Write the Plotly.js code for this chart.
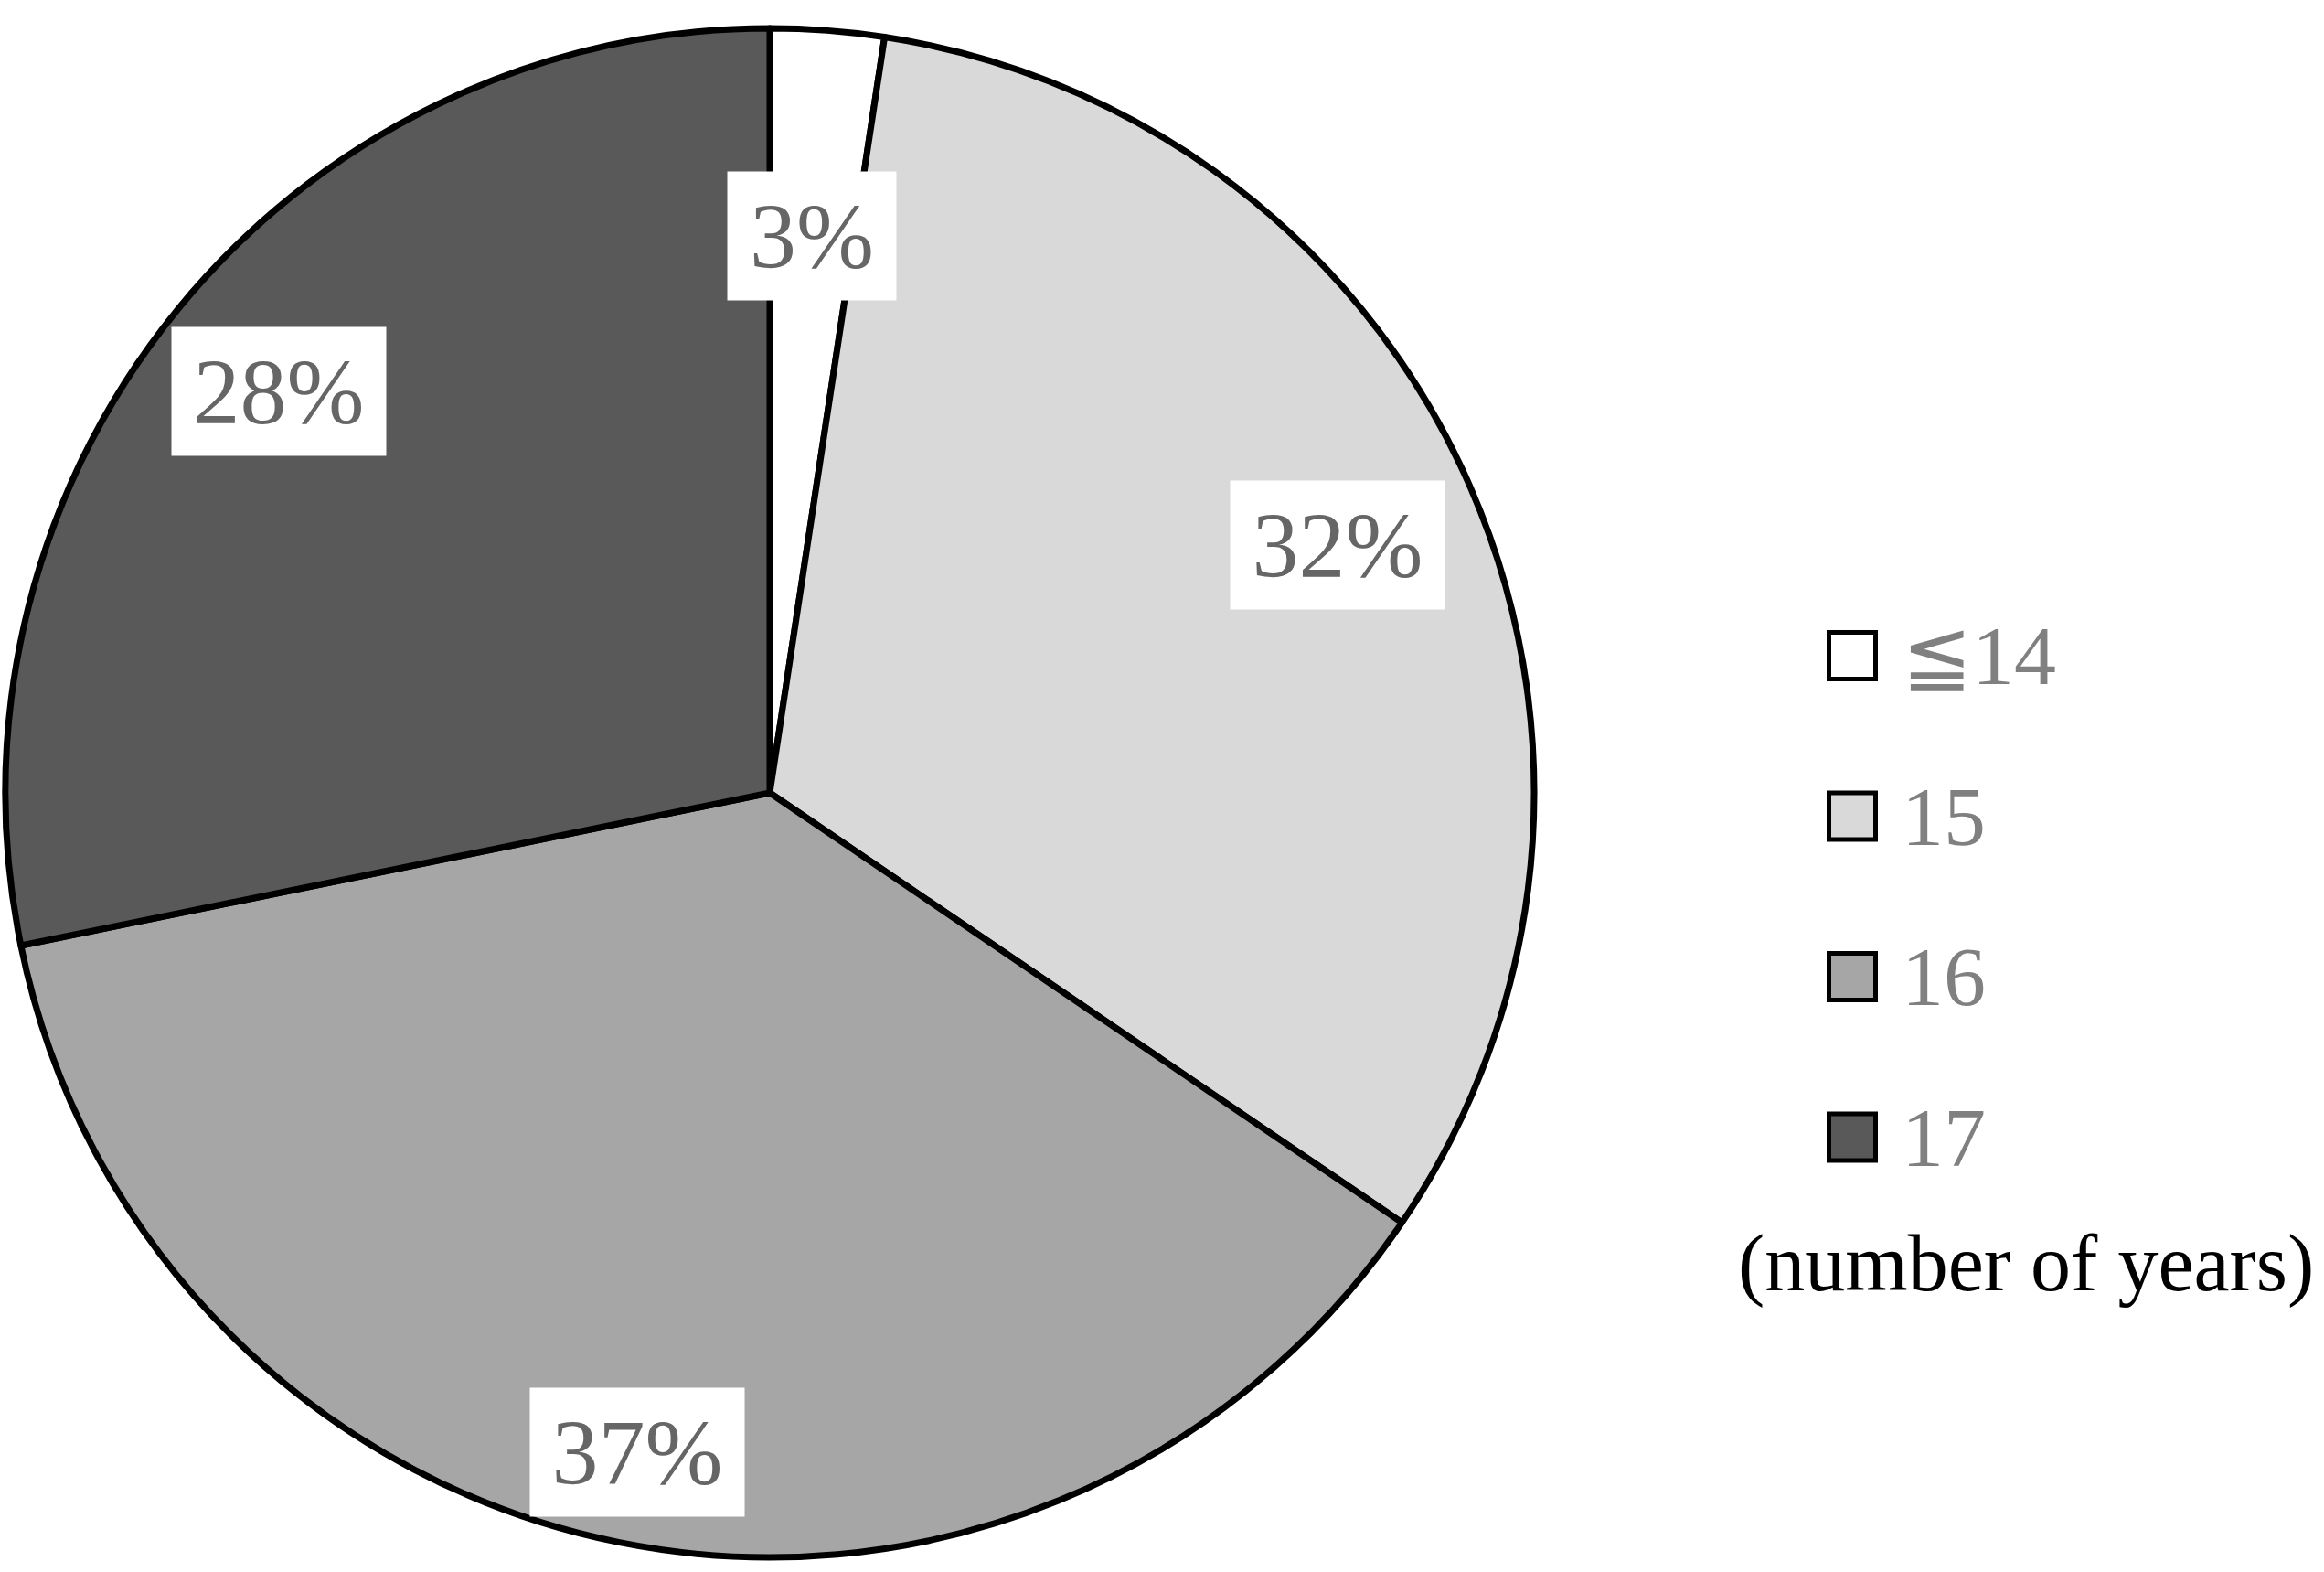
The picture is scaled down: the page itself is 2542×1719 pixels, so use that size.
<!DOCTYPE html>
<html>
<head>
<meta charset="utf-8">
<script src="https://cdn.plot.ly/plotly-3.0.1.min.js"></script>
<style>html,body{margin:0;padding:0;background:#fff}</style>
</head>
<body>
<div id="graphDiv" style="width:2542px;height:1719px"></div>
<script>
var categories = ['≦14', '15', '16', '17'];
var shares = [2.4, 32.1, 37.3, 28.2];
var pctLabels = ['3%', '32%', '37%', '28%'];
var sliceColors = ['#ffffff', '#d9d9d9', '#a6a6a6', '#595959'];
var unitNote = '(number of years)';

var W = 2542, H = 1719;
var cx = 842, cy = 867, R = 836;   // pie centre + radius, px from top-left
var serif = '"Liberation Serif", "Times New Roman", "DejaVu Sans", serif';

// label boxes: distance from centre (share of radius) and box width
var labelRadius = [0.73, 0.81, 0.88, 0.83];
var labelBoxW = [184, 234, 234, 234];

var total = shares.reduce(function (a, b) { return a + b; }, 0);
var annotations = [];
var shapes = [];

var cum = 0;
for (var i = 0; i < shares.length; i++) {
    var mid = (cum + shares[i] / 2) / total * 2 * Math.PI;
    cum += shares[i];
    var r = R * labelRadius[i];
    annotations.push({
        xref: 'paper', yref: 'paper',
        x: (cx + r * Math.sin(mid)) / W,
        y: (H - cy + r * Math.cos(mid)) / H,
        xanchor: 'center', yanchor: 'middle',
        text: pctLabels[i], showarrow: false,
        width: labelBoxW[i], height: 140, borderpad: 0,
        bgcolor: '#ffffff',
        font: {family: serif, size: 102, color: '#666666'}
    });
}

// legend drawn by hand so the boxes can be big like the original
var legX = 2026, legY0 = 717, legStep = 175.5, box = 51;
categories.forEach(function (c, i) {
    var y = legY0 + i * legStep;
    shapes.push({
        type: 'rect', xref: 'paper', yref: 'paper',
        x0: (legX - box / 2) / W, x1: (legX + box / 2) / W,
        y0: (H - y - box / 2) / H, y1: (H - y + box / 2) / H,
        fillcolor: sliceColors[i],
        line: {color: '#000000', width: 5}
    });
    annotations.push({
        xref: 'paper', yref: 'paper',
        x: 2079 / W, y: (H - y) / H,
        xanchor: 'left', yanchor: 'middle',
        text: c, showarrow: false, borderpad: 0,
        font: {family: serif, size: 92, color: '#808080'}
    });
});

annotations.push({
    xref: 'paper', yref: 'paper',
    x: 2216 / W, y: (H - 1381) / H,
    xanchor: 'center', yanchor: 'middle',
    text: unitNote, showarrow: false, borderpad: 0,
    font: {family: serif, size: 88, color: '#000000'}
});

var trace = {
    type: 'pie',
    values: shares,
    labels: categories,
    sort: false,
    direction: 'clockwise',
    rotation: 0,
    marker: {colors: sliceColors, line: {color: '#000000', width: 7}},
    textinfo: 'none',
    hoverinfo: 'label+percent',
    domain: {x: [(cx - R) / W, (cx + R) / W], y: [(H - cy - R) / H, (H - cy + R) / H]}
};

var layout = {
    width: W,
    height: H,
    margin: {l: 0, r: 0, t: 0, b: 0},
    showlegend: false,
    paper_bgcolor: '#ffffff',
    annotations: annotations,
    shapes: shapes
};

Plotly.newPlot('graphDiv', [trace], layout, {displayModeBar: false});
</script>
</body>
</html>
